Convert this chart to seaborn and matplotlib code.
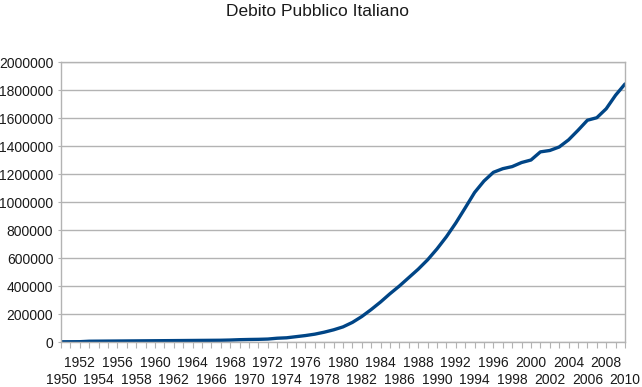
import matplotlib
matplotlib.use("Agg")
import matplotlib.pyplot as plt
import seaborn as sns
import pandas as pd
from matplotlib.ticker import MultipleLocator, FixedLocator, FuncFormatter

years = list(range(1950, 2011))
debt = [1500, 1800, 2200, 5500, 6000, 6500, 7000, 7500, 8000, 8500,
        9000, 9500, 10000, 10500, 11000, 11500, 12000, 12500, 14000, 16500,
        18000, 19000, 21000, 27000, 30000, 38000, 46000, 56000, 70000, 87000,
        108000, 140000, 182000, 232000, 286000, 345000, 400000, 460000, 520000, 587000,
        665000, 752000, 850000, 958000, 1068000, 1150000, 1212000, 1238000, 1253000, 1282000,
        1300000, 1358000, 1368000, 1393000, 1444000, 1512000, 1584000, 1602000, 1666000, 1763000,
        1843000]
title = "Debito Pubblico Italiano"
y_ticks = list(range(0, 2000001, 200000))
upper_row_years = list(range(1952, 2010, 4))
lower_row_years = list(range(1950, 2011, 4))

df = pd.DataFrame({"Anno": years, "Debito": debt})

sns.set_theme(style="white")
plt.rcParams["font.family"] = ["Liberation Sans", "DejaVu Sans"]

fig = plt.figure(figsize=(6.42, 3.87), dpi=100)
ax = fig.add_axes([61/642, 1 - 342/387, (625 - 61)/642, (342 - 62)/387])

sns.lineplot(data=df, x="Anno", y="Debito", ax=ax, color="#004586", linewidth=2.4)

ax.set_xlim(1950, 2010)
ax.set_ylim(0, 2000000)
ax.set_xlabel("")
ax.set_ylabel("")

ax.set_yticks(y_ticks)
ax.set_yticklabels([str(v) for v in y_ticks])
ax.yaxis.grid(True, color="#b3b3b3", linewidth=1)
ax.xaxis.grid(False)

# upper row labels on major ticks, lower row labels on minor ticks
ax.xaxis.set_major_locator(FixedLocator(upper_row_years))
ax.xaxis.set_major_formatter(FuncFormatter(lambda v, p: str(int(round(v)))))
ax.xaxis.set_minor_locator(MultipleLocator(1))
lower_set = set(lower_row_years)
ax.xaxis.set_minor_formatter(FuncFormatter(
    lambda v, p: str(int(round(v))) if int(round(v)) in lower_set else ""))

ax.tick_params(axis="x", which="major", direction="out", length=4.5, width=0.8,
               color="#b3b3b3", bottom=True, pad=5.5, labelsize=10, labelcolor="#1a1a1a")
ax.tick_params(axis="x", which="minor", direction="out", length=4.5, width=0.8,
               color="#b3b3b3", bottom=True, pad=17.5, labelsize=10, labelcolor="#1a1a1a")
ax.tick_params(axis="y", which="major", direction="out", length=2.5, width=0.8,
               color="#b3b3b3", left=True, pad=3, labelsize=10, labelcolor="#1a1a1a")

for side in ["left", "right", "top", "bottom"]:
    ax.spines[side].set_visible(True)
    ax.spines[side].set_color("#b3b3b3")
    ax.spines[side].set_linewidth(1)

fig.text(318/642, 1 - 11/387, title, ha="center", va="center", fontsize=12.5, color="#1a1a1a")

fig.savefig("out.png", dpi=100)
